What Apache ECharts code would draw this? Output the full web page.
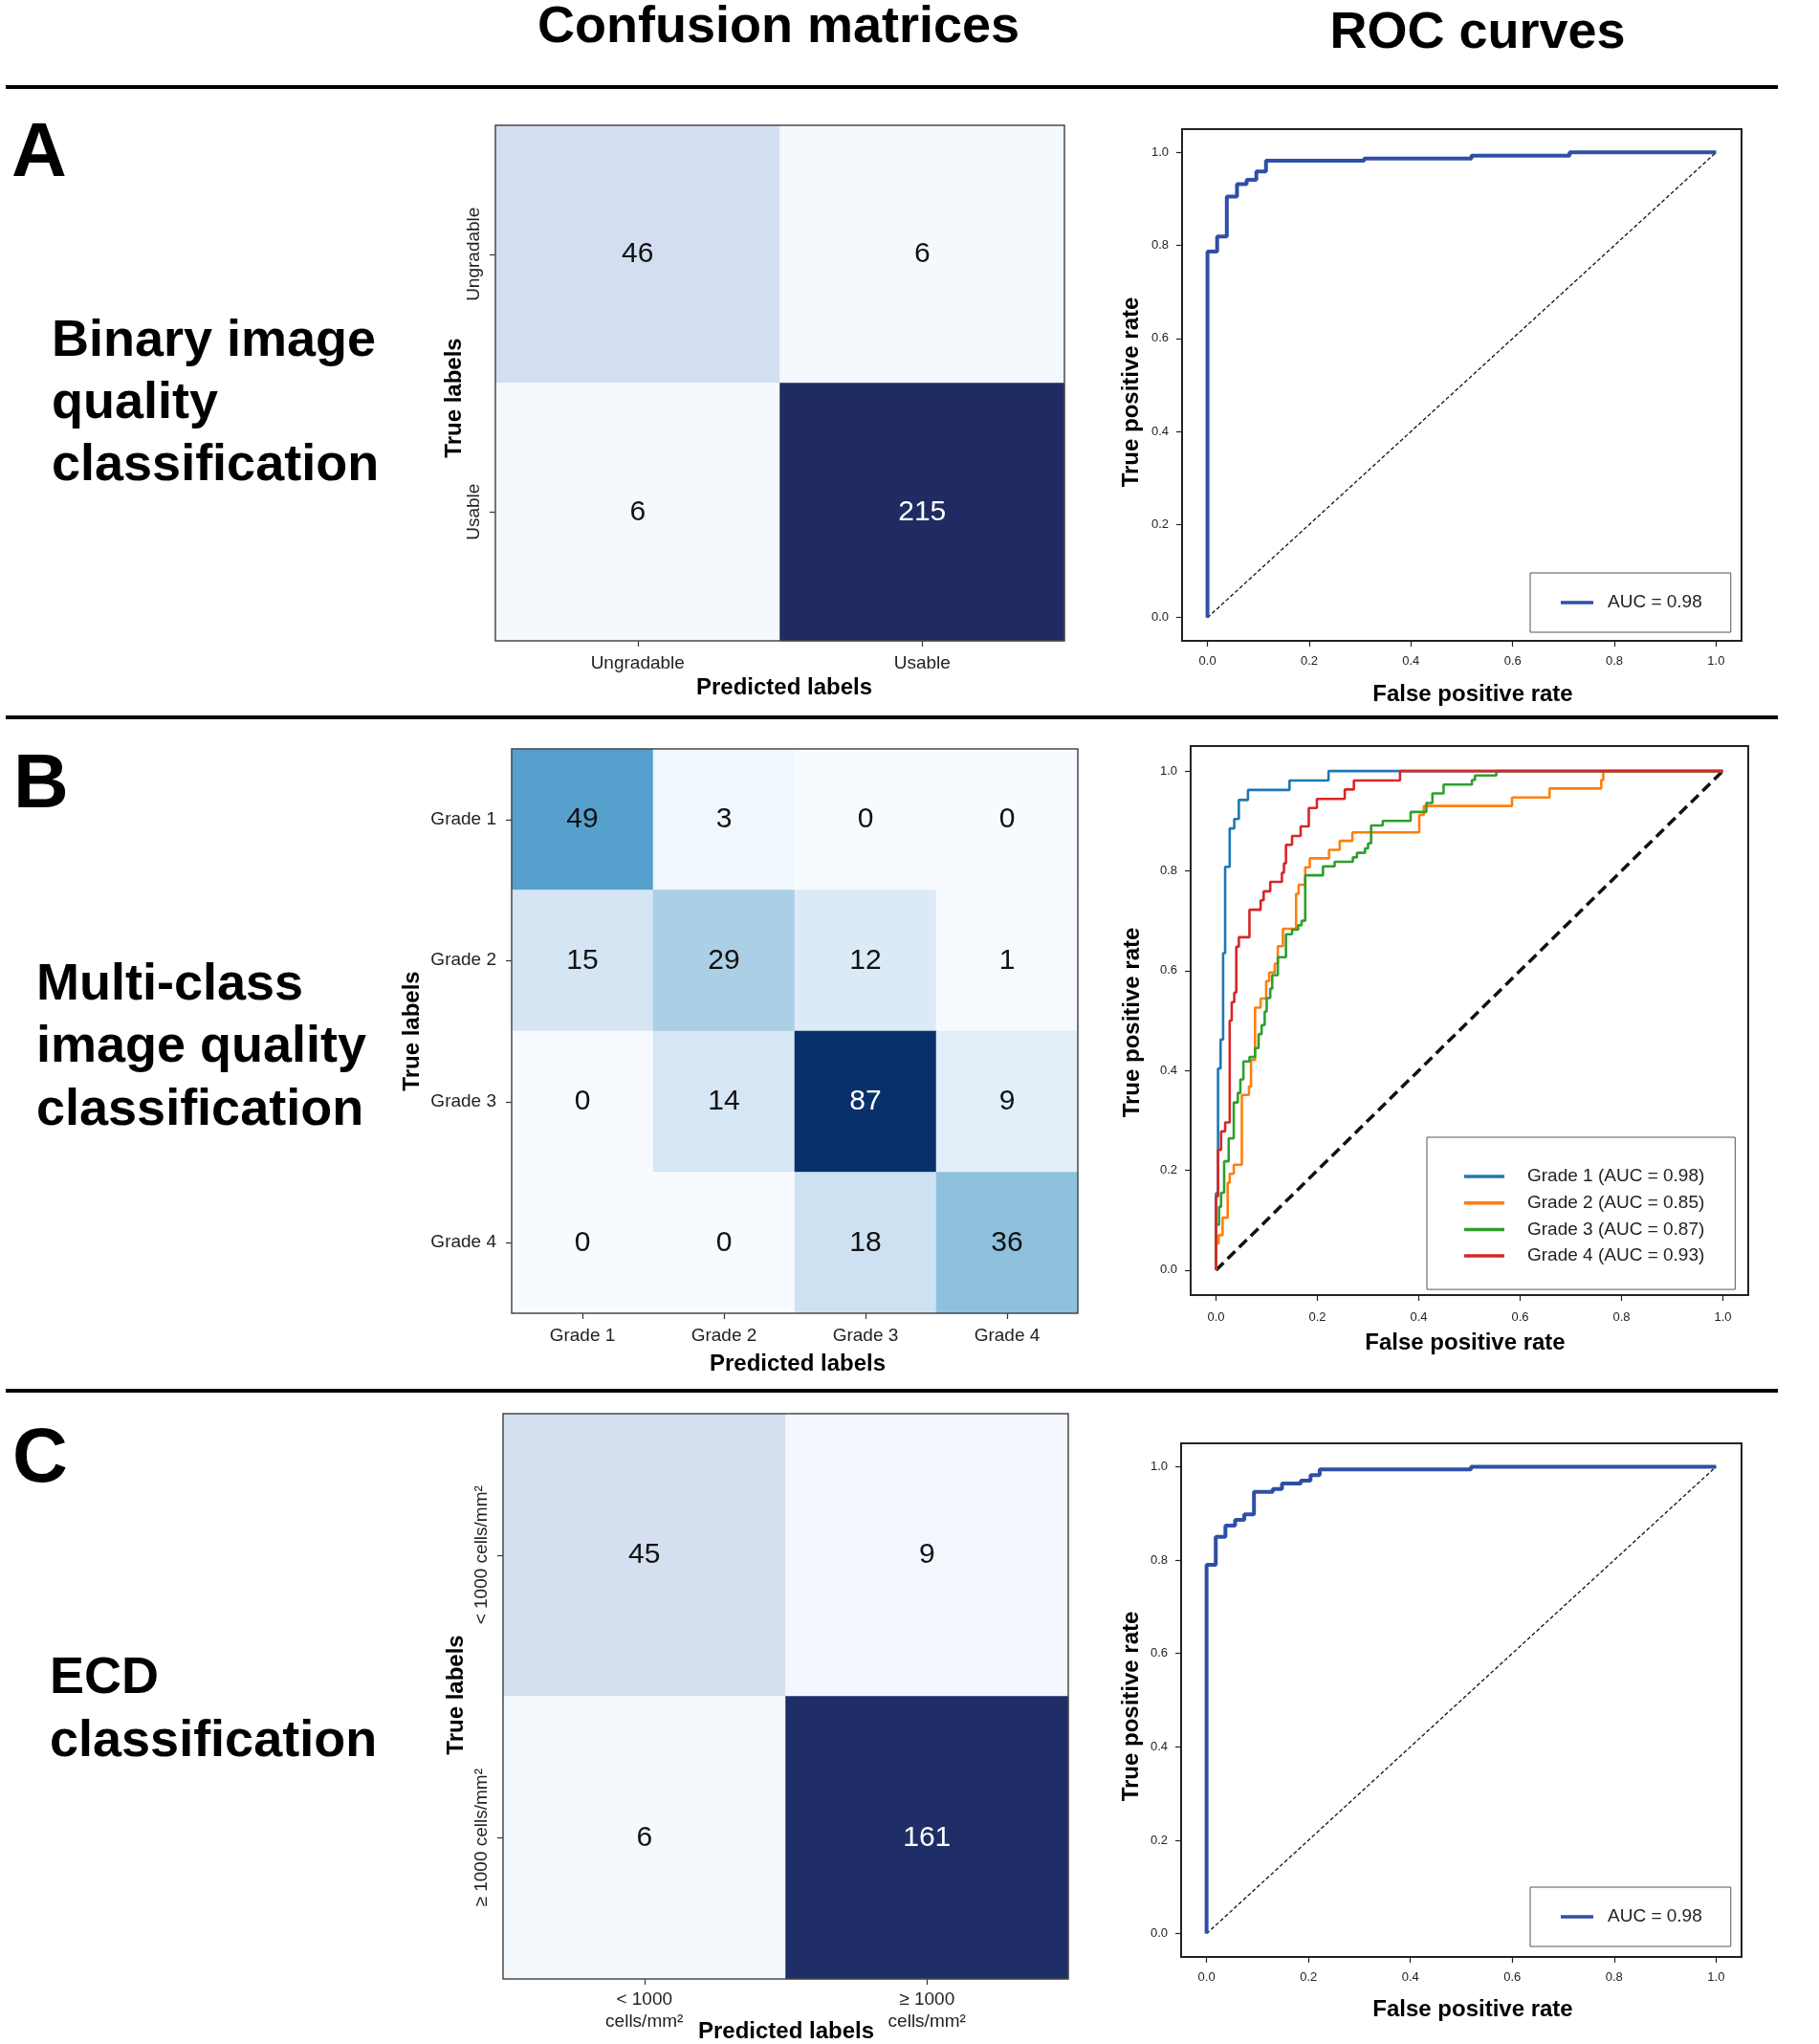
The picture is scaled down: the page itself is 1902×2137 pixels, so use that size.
<!DOCTYPE html>
<html><head><meta charset="utf-8">
<script src="https://cdn.jsdelivr.net/npm/echarts@6/dist/echarts.min.js"></script>
<style>html,body{margin:0;padding:0;background:#fff}#c{width:1902px;height:2137px}</style>
</head><body><div id="c"></div>
<script>
const FONT = '"Liberation Sans", Arial, Helvetica, sans-serif';

// ---------- Panel A: binary image quality ----------
const cmA_labels = ['Ungradable', 'Usable'];
const cmA_values = [[46, 6], [6, 215]];            // rows: true, cols: predicted
const rocA_fpr = [0, 0, 0.019, 0.038, 0.058, 0.077, 0.096, 0.115, 0.308, 0.519, 0.712, 1];
const rocA_tpr = [0, 0.787, 0.819, 0.905, 0.932, 0.941, 0.959, 0.982, 0.987, 0.993, 1, 1];
const rocA_name = 'AUC = 0.98';

// ---------- Panel B: multi-class image quality ----------
const cmB_labels = ['Grade 1', 'Grade 2', 'Grade 3', 'Grade 4'];
const cmB_values = [[49, 3, 0, 0], [15, 29, 12, 1], [0, 14, 87, 9], [0, 0, 18, 36]];
const rocB_names = ['Grade 1 (AUC = 0.98)', 'Grade 2 (AUC = 0.85)', 'Grade 3 (AUC = 0.87)', 'Grade 4 (AUC = 0.93)'];
const g1_fpr = [0, 0, 0.004, 0.009, 0.014, 0.018, 0.027, 0.036, 0.045, 0.063, 0.145, 0.222, 1];
const g1_tpr = [0, 0.154, 0.404, 0.462, 0.635, 0.808, 0.885, 0.904, 0.942, 0.962, 0.981, 1, 1];
const g2_fpr = [0, 0, 0.005, 0.013, 0.023, 0.027, 0.035, 0.051, 0.065, 0.069, 0.077, 0.088, 0.099, 0.105, 0.116, 0.122, 0.132, 0.158, 0.163, 0.176, 0.185, 0.223, 0.244, 0.269, 0.401, 0.410, 0.584, 0.658, 0.760, 0.764, 1];
const g2_tpr = [0, 0.053, 0.070, 0.105, 0.175, 0.193, 0.211, 0.351, 0.368, 0.421, 0.526, 0.544, 0.579, 0.596, 0.614, 0.649, 0.684, 0.754, 0.772, 0.807, 0.825, 0.842, 0.860, 0.877, 0.912, 0.930, 0.947, 0.965, 0.982, 1, 1];
const g3_fpr = [0, 0, 0.006, 0.010, 0.016, 0.025, 0.035, 0.043, 0.048, 0.054, 0.066, 0.077, 0.084, 0.090, 0.096, 0.100, 0.107, 0.111, 0.122, 0.138, 0.150, 0.162, 0.169, 0.176, 0.211, 0.234, 0.270, 0.278, 0.294, 0.300, 0.306, 0.329, 0.384, 0.415, 0.427, 0.449, 0.505, 0.511, 0.553, 1];
const g3_tpr = [0, 0.091, 0.127, 0.155, 0.218, 0.264, 0.336, 0.355, 0.382, 0.418, 0.427, 0.445, 0.473, 0.491, 0.518, 0.545, 0.564, 0.591, 0.627, 0.673, 0.682, 0.691, 0.700, 0.791, 0.809, 0.818, 0.827, 0.836, 0.845, 0.855, 0.891, 0.900, 0.918, 0.936, 0.955, 0.973, 0.982, 0.991, 1, 1];
const g4_fpr = [0, 0, 0.004, 0.010, 0.018, 0.027, 0.031, 0.036, 0.040, 0.045, 0.066, 0.088, 0.094, 0.107, 0.130, 0.134, 0.138, 0.150, 0.167, 0.183, 0.199, 0.254, 0.272, 0.363, 1];
const g4_tpr = [0, 0.148, 0.241, 0.278, 0.296, 0.500, 0.537, 0.556, 0.648, 0.667, 0.722, 0.741, 0.759, 0.778, 0.796, 0.815, 0.852, 0.870, 0.889, 0.926, 0.944, 0.963, 0.981, 1, 1];

// ---------- Panel C: ECD classification ----------
const cmC_xlabels = ['< 1000\ncells/mm²', '≥ 1000\ncells/mm²'];
const cmC_ylabels = ['< 1000 cells/mm²', '≥ 1000 cells/mm²'];
const cmC_values = [[45, 9], [6, 161]];
const rocC_fpr = [0, 0, 0.018, 0.037, 0.056, 0.074, 0.093, 0.130, 0.148, 0.185, 0.204, 0.222, 0.519, 1];
const rocC_tpr = [0, 0.790, 0.850, 0.874, 0.886, 0.898, 0.946, 0.952, 0.964, 0.970, 0.982, 0.994, 1, 1];
const rocC_name = 'AUC = 0.98';

const rocTicks = [0, 0.2, 0.4, 0.6, 0.8, 1.0];

// ---------- styles ----------
const BLUES = ['#f7fbff','#deebf7','#c6dbef','#9ecae1','#6baed6','#4292c6','#2171b5','#08519c','#08306b'];
const RAMP_A = ['#f7fbff','#eaf1f9','#c9d8ec','#a3b3d6','#7e90c0','#5c6fa8','#435491','#2f3d78','#1f2b61'];
const RAMP_C = ['#f7fbff','#eef3fb','#dae4f3','#c0cde8','#9aa9d0','#7082b5','#4d5f99','#34447c','#1f2e66'];
const ROC_BLUE = '#2f4ea6';
const B_COLORS = ['#1f77b4', '#ff7f0e', '#2ca02c', '#d62728'];

const grids = [
  {left: 518, top: 131, width: 595, height: 539},   // 0 CM A
  {left: 535, top: 783, width: 592, height: 590},   // 1 CM B
  {left: 526, top: 1478, width: 591, height: 591},  // 2 CM C
  {left: 1236, top: 135, width: 585, height: 535},  // 3 ROC A
  {left: 1245, top: 780, width: 583, height: 574},  // 4 ROC B
  {left: 1235, top: 1509, width: 586, height: 537}  // 5 ROC C
].map((g, i) => Object.assign({
  show: true, z: 5, backgroundColor: 'transparent',
  borderColor: i < 3 ? '#4a4a4a' : '#222', borderWidth: i < 3 ? 1.5 : 2
}, g));

const xAxes = [], yAxes = [], series = [], visualMaps = [];

function cmAxes(gi, xl, yl, opts) {
  xAxes.push({
    gridIndex: gi, type: 'category', data: xl, position: 'bottom',
    axisLine: {show: false}, splitLine: {show: false},
    axisTick: {show: true, alignWithLabel: true, length: 6, lineStyle: {color: '#333', width: 1.2}},
    axisLabel: {fontSize: 19, color: '#222', fontFamily: FONT, margin: opts.xMargin, lineHeight: 23}
  });
  yAxes.push({
    gridIndex: gi, type: 'category', data: yl, inverse: true,
    axisLine: {show: false}, splitLine: {show: false},
    axisTick: {show: true, alignWithLabel: true, length: 6, lineStyle: {color: '#333', width: 1.2}},
    axisLabel: {fontSize: 19, color: '#222', fontFamily: FONT, margin: opts.yMargin, rotate: opts.yRotate}
  });
}

function cmSeries(gi, values, ramp) {
  const flat = values.flat();
  const max = Math.max(...flat);
  const data = [];
  values.forEach((row, r) => row.forEach((v, c) => {
    data.push({value: [c, r, v], label: {color: v > max * 0.65 ? '#ffffff' : '#111111'}});
  }));
  const si = series.length;
  series.push({
    type: 'heatmap', xAxisIndex: gi, yAxisIndex: gi, data: data,
    label: {show: true, fontSize: 30, fontFamily: FONT, formatter: p => String(p.value[2])},
    emphasis: {disabled: true}
  });
  visualMaps.push({type: 'continuous', show: false, seriesIndex: si, dimension: 2,
    min: 0, max: max, inRange: {color: ramp}});
}

function rocAxes(gi, xMargin, yMargin) {
  const common = {
    gridIndex: gi, type: 'value', min: -0.05, max: 1.05,
    axisLine: {show: false, onZero: false}, splitLine: {show: false},
    axisTick: {show: true, customValues: rocTicks, length: 6, lineStyle: {color: '#222', width: 1.2}}
  };
  xAxes.push(Object.assign({}, common, {
    position: 'bottom',
    axisLabel: {customValues: rocTicks, formatter: v => v.toFixed(1), fontSize: 13, color: '#222', fontFamily: FONT, margin: xMargin}
  }));
  yAxes.push(Object.assign({}, common, {
    position: 'left',
    axisLabel: {customValues: rocTicks, formatter: v => v.toFixed(1), fontSize: 13, color: '#222', fontFamily: FONT, margin: yMargin}
  }));
}

function rocLine(gi, name, fpr, tpr, color, width) {
  series.push({
    type: 'line', name: name, xAxisIndex: gi, yAxisIndex: gi, step: 'end',
    symbol: 'none', color: color, data: fpr.map((f, i) => [f, tpr[i]]),
    lineStyle: {color: color, width: width}, z: 3, silent: true
  });
}
function chance(gi, width, dash) {
  series.push({
    type: 'line', name: 'chance', xAxisIndex: gi, yAxisIndex: gi, symbol: 'none',
    data: [[0, 0], [1, 1]], color: '#111',
    lineStyle: {color: '#111', width: width, type: dash}, z: 2, silent: true
  });
}

// Confusion matrices
cmAxes(0, cmA_labels, cmA_labels, {xMargin: 12, yMargin: 13, yRotate: 90});
cmAxes(1, cmB_labels, cmB_labels, {xMargin: 12, yMargin: 16, yRotate: 0});
cmAxes(2, cmC_xlabels, cmC_ylabels, {xMargin: 10, yMargin: 13, yRotate: 90});
cmSeries(0, cmA_values, RAMP_A);
cmSeries(1, cmB_values, BLUES);
cmSeries(2, cmC_values, RAMP_C);

// ROC curves
rocAxes(3, 15, 14);
rocAxes(4, 17, 14);
rocAxes(5, 15, 14);
chance(3, 1.3, [4, 2.5]);
rocLine(3, rocA_name, rocA_fpr, rocA_tpr, ROC_BLUE, 4);
chance(4, 3.5, [11, 6]);
rocLine(4, rocB_names[0], g1_fpr, g1_tpr, B_COLORS[0], 2.6);
rocLine(4, rocB_names[1], g2_fpr, g2_tpr, B_COLORS[1], 2.6);
rocLine(4, rocB_names[2], g3_fpr, g3_tpr, B_COLORS[2], 2.6);
rocLine(4, rocB_names[3], g4_fpr, g4_tpr, B_COLORS[3], 2.6);
chance(5, 1.3, [4, 2.5]);
rocLine(5, rocC_name, rocC_fpr, rocC_tpr, ROC_BLUE, 4);

const legendBase = {
  orient: 'vertical', icon: 'rect', selectedMode: false, backgroundColor: '#fff',
  borderColor: '#555', borderWidth: 1, borderRadius: 0
};
const legends = [
  Object.assign({}, legendBase, {data: [rocA_name], left: 1600, top: 599, itemWidth: 34, itemHeight: 3.5,
    padding: [21, 30, 21, 32], textStyle: {fontSize: 19, fontFamily: FONT, color: '#222', lineHeight: 20, padding: [0, 0, 0, 10]}}),
  Object.assign({}, legendBase, {data: rocB_names, left: 1492, top: 1189, itemWidth: 42, itemHeight: 3.5, itemGap: 7.7,
    padding: [31, 32, 25, 39], textStyle: {fontSize: 19, fontFamily: FONT, color: '#222', lineHeight: 20, padding: [0, 0, 0, 19]}}),
  Object.assign({}, legendBase, {data: [rocC_name], left: 1600, top: 1973, itemWidth: 34, itemHeight: 3.5,
    padding: [21, 30, 21, 32], textStyle: {fontSize: 19, fontFamily: FONT, color: '#222', lineHeight: 20, padding: [0, 0, 0, 10]}})
];

// ---------- texts and rules ----------
function txt(text, x, y, size, opts) {
  opts = opts || {};
  return {
    type: 'text', x: x, y: y, rotation: opts.rot || 0, silent: true,
    style: {
      text: text, fill: '#000',
      font: (opts.bold === false ? '' : 'bold ') + size + 'px ' + FONT,
      textAlign: opts.align || 'center', align: opts.align || 'center',
      textVerticalAlign: 'middle', verticalAlign: 'middle'
    }
  };
}
function rule(y) {
  return {type: 'line', silent: true, shape: {x1: 6, y1: y, x2: 1859, y2: y}, style: {stroke: '#000', lineWidth: 4}};
}
const R = Math.PI / 2;
const graphics = [
  txt('Confusion matrices', 814, 29, 54),
  txt('ROC curves', 1545, 35, 54),
  rule(91), rule(750), rule(1454),
  txt('A', 12, 162, 80, {align: 'left'}),
  txt('B', 14, 822, 80, {align: 'left'}),
  txt('C', 13, 1527, 80, {align: 'left'}),
  txt('Binary image', 54, 357, 54, {align: 'left'}),
  txt('quality', 54, 422, 54, {align: 'left'}),
  txt('classification', 54, 487, 54, {align: 'left'}),
  txt('Multi-class', 38, 1030, 54, {align: 'left'}),
  txt('image quality', 38, 1095, 54, {align: 'left'}),
  txt('classification', 38, 1161, 54, {align: 'left'}),
  txt('ECD', 52, 1755, 54, {align: 'left'}),
  txt('classification', 52, 1821, 54, {align: 'left'}),
  // axis titles
  txt('True labels', 475, 416, 24, {rot: R}),
  txt('Predicted labels', 820, 719, 24),
  txt('True labels', 431, 1078, 24, {rot: R}),
  txt('Predicted labels', 834, 1426, 24),
  txt('True labels', 477, 1772, 24, {rot: R}),
  txt('Predicted labels', 822, 2124, 24),
  txt('True positive rate', 1183, 410, 24, {rot: R}),
  txt('False positive rate', 1540, 726, 24),
  txt('True positive rate', 1184, 1069, 24, {rot: R}),
  txt('False positive rate', 1532, 1404, 24),
  txt('True positive rate', 1183, 1784, 24, {rot: R}),
  txt('False positive rate', 1540, 2101, 24)
];

const chart = echarts.init(document.getElementById('c'), null, {renderer: 'canvas'});
chart.setOption({
  animation: false,
  backgroundColor: '#ffffff',
  textStyle: {fontFamily: FONT},
  grid: grids,
  xAxis: xAxes,
  yAxis: yAxes,
  visualMap: visualMaps,
  legend: legends,
  series: series,
  graphic: graphics
});
</script>
</body></html>
